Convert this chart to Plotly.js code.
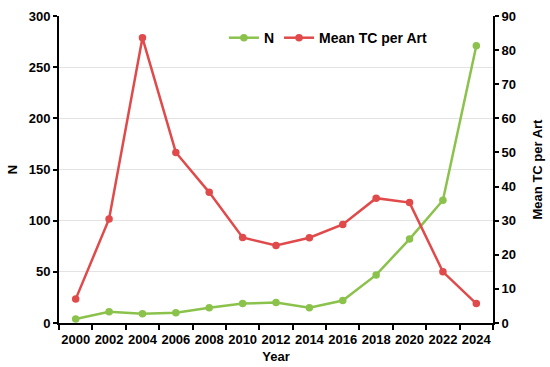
<!DOCTYPE html>
<html>
<head>
<meta charset="utf-8">
<script src="https://cdn.plot.ly/plotly-3.0.1.min.js"></script>
<style>html,body{margin:0;padding:0;background:#fff}#chart{width:550px;height:367px}</style>
</head>
<body>
<div id="chart"></div>
<script>
const years = ['2000','2002','2004','2006','2008','2010','2012','2014','2016','2018','2020','2022','2024'];
const nValues = [4, 11, 9, 10, 15, 19, 20, 15, 22, 47, 82, 120, 271];
const meanTC = [7.0, 30.5, 83.6, 50.0, 38.3, 25.1, 22.7, 25.0, 28.9, 36.6, 35.3, 15.0, 5.7];

const green = '#8bc24c';
const red = '#e04a4a';
const fam = 'Liberation Sans, Arial, sans-serif';
const font = {family: fam, size: 12, color: '#000'};

const traces = [
  {x: years, y: nValues, name: '<b>N</b>', type: 'scatter', mode: 'lines+markers',
   line: {color: green, width: 2.5}, marker: {color: green, size: 7.5}, yaxis: 'y'},
  {x: years, y: meanTC, name: '<b>Mean TC per Art</b>', type: 'scatter', mode: 'lines+markers',
   line: {color: red, width: 2.5}, marker: {color: red, size: 7.5}, yaxis: 'y2'}
];

const layout = {
  width: 550, height: 367,
  margin: {l: 59, r: 57, t: 16, b: 44},
  paper_bgcolor: '#fff', plot_bgcolor: '#fff',
  font: font,
  showlegend: true,
  legend: {orientation: 'h', x: 0.38, y: 0.928, xanchor: 'left', yanchor: 'middle',
           bgcolor: 'rgba(0,0,0,0)', font: {family: fam, size: 14, color: '#000'}},
  xaxis: {type: 'category', range: [-0.5, 12.5], tickson: 'boundaries', tickangle: 0,
          ticks: 'outside', ticklen: 5, tickwidth: 2, tickcolor: '#000', ticklabelstandoff: 3,
          showline: true, linecolor: '#000', linewidth: 2, showgrid: false, zeroline: false,
          tickfont: {family: fam, size: 13, color: '#000', weight: 'bold'},
          title: {text: '<b>Year</b>', font: {family: fam, size: 13, color: '#000'}, standoff: 6}},
  yaxis: {range: [0, 300], dtick: 50, ticks: 'outside', ticklen: 4, tickwidth: 2, tickcolor: '#000',
          showline: true, linecolor: '#000', linewidth: 2, showgrid: true, gridcolor: '#e3e3e3', gridwidth: 1,
          zeroline: false,
          tickfont: {family: fam, size: 13, color: '#000', weight: 'bold'},
          title: {text: '<b>N</b>', font: {family: fam, size: 13, color: '#000'}, standoff: 8}},
  yaxis2: {range: [0, 90], dtick: 10, overlaying: 'y', side: 'right',
           ticks: 'outside', ticklen: 4, tickwidth: 2, tickcolor: '#000',
           showline: true, linecolor: '#000', linewidth: 2, showgrid: false, zeroline: false,
           tickfont: {family: fam, size: 13, color: '#000', weight: 'bold'},
           title: {text: '<b>Mean TC per Art</b>', font: {family: fam, size: 13, color: '#000'}, standoff: 18}}
};

Plotly.newPlot('chart', traces, layout, {displayModeBar: false, staticPlot: true});
</script>
</body>
</html>
